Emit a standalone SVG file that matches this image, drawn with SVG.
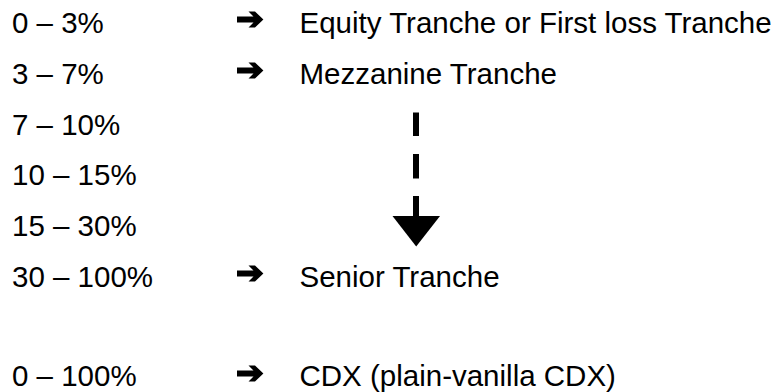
<svg xmlns="http://www.w3.org/2000/svg" width="780" height="392" viewBox="0 0 780 392">
<style>
text{font-family:"Liberation Sans",Arial,sans-serif;font-size:29.5px;fill:#000}
.dash{stroke:#000;stroke-width:6;fill:none}
</style>
<defs>
<polygon id="rarr" points="0,-3 16.5,-3 11.5,-8 18,-8 26.4,0 18,8 11.5,8 16.5,3 0,3" fill="#000"/>
</defs>
<rect width="780" height="392" fill="#fff"/>
<g id="row1"><text x="12" y="33">0 – 3%</text><text x="299.5" y="33">Equity Tranche or First loss Tranche</text></g>
<g id="row2"><text x="12" y="84">3 – 7%</text><text x="299.5" y="84">Mezzanine Tranche</text></g>
<g id="row3"><text x="12" y="134.5">7 – 10%</text></g>
<g id="row4"><text x="12" y="185">10 – 15%</text></g>
<g id="row5"><text x="12" y="236">15 – 30%</text></g>
<g id="row6"><text x="12" y="287">30 – 100%</text><text x="299.5" y="287">Senior Tranche</text></g>
<g id="row7"><text x="12" y="386">0 – 100%</text><text x="299.5" y="386">CDX (plain-vanilla CDX)</text></g>
<g id="connectors">
<use href="#rarr" x="237" y="19.5"/>
<use href="#rarr" x="237" y="70.5"/>
<use href="#rarr" x="237" y="273.5"/>
<use href="#rarr" x="237" y="373.5"/>
<line class="dash" x1="416" y1="112.5" x2="416" y2="136"/>
<line class="dash" x1="416" y1="154" x2="416" y2="178.5"/>
<line class="dash" x1="416" y1="196" x2="416" y2="218"/>
<polygon points="392.5,216 440,216 416.2,246.5" fill="#000"/>
</g>
</svg>
